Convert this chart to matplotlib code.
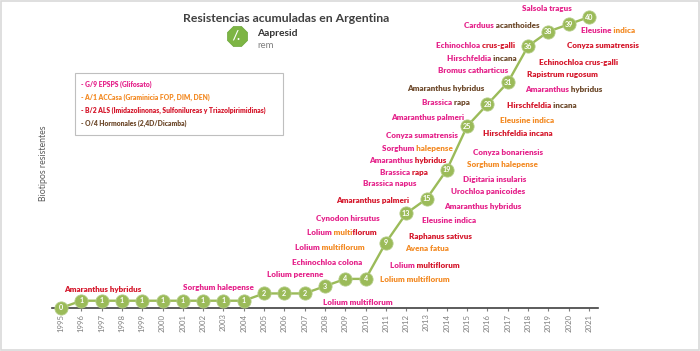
import matplotlib
matplotlib.use("Agg")
import matplotlib.pyplot as plt
from matplotlib.patches import Rectangle
from matplotlib.lines import Line2D
from matplotlib.transforms import Bbox

plt.rcParams['font.family'] = ['Lato', 'DejaVu Sans']

# data
years = list(range(1995, 2022))
counts = [0, 1, 1, 1, 1, 1, 1, 1, 1, 1, 2, 2, 2, 3, 4, 4, 9, 13, 15, 19, 25, 28, 31, 36, 38, 39, 40]

# species labels: list of (text, group) parts
species = [
    [("Amaranthus hybridus", "R")],
    [("Sorghum halepense", "P")],
    [("Lolium perenne", "P")],
    [("Echinochloa colona", "P")],
    [("Lolium ", "P"), ("multiflorum", "O")],
    [("Lolium ", "P"), ("multi", "O"), ("florum", "R")],
    [("Cynodon hirsutus", "P")],
    [("Amaranthus palmeri", "R")],
    [("Brassica napus", "P")],
    [("Brassica ", "P"), ("rapa", "R")],
    [("Amaranthus ", "P"), ("hybridus", "R")],
    [("Sorghum ", "P"), ("halepense", "O")],
    [("Conyza sumatrensis", "P")],
    [("Amaranthus palmeri", "P")],
    [("Brassica ", "P"), ("rapa", "B")],
    [("Amaranthus hybridus", "B")],
    [("Bromus catharticus", "P")],
    [("Hirschfeldia ", "P"), ("incana", "B")],
    [("Echinochloa ", "P"), ("crus-galli", "R")],
    [("Carduus ", "P"), ("acanthoides", "B")],
    [("Salsola tragus", "P")],
    [("Eleusine ", "P"), ("indica", "O")],
    [("Conyza sumatrensis", "R")],
    [("Echinochloa crus-galli", "R")],
    [("Rapistrum rugosum", "R")],
    [("Amaranthus ", "P"), ("hybridus", "B")],
    [("Hirschfeldia ", "R"), ("incana", "B")],
    [("Eleusine indica", "O")],
    [("Hirschfeldia incana", "R")],
    [("Conyza bonariensis", "P")],
    [("Sorghum halepense", "O")],
    [("Digitaria insularis", "P")],
    [("Urochloa panicoides", "P")],
    [("Amaranthus hybridus", "P")],
    [("Eleusine indica", "P")],
    [("Raphanus sativus", "R")],
    [("Avena fatua", "O")],
    [("Lolium ", "P"), ("multiflorum", "R")],
    [("Lolium multiflorum", "O")],
    [("Lolium multiflorum", "P")],
]

# where each label sits (centre, data units)
label_xy = [
    (1997.07, 2.61), (2002.73, 2.75), (2006.52, 4.67), (2008.10, 6.32),
    (2008.24, 8.25), (2008.84, 10.31), (2009.13, 12.37), (2010.36, 14.71),
    (2011.20, 17.18), (2011.89, 18.56), (2012.09, 20.21), (2012.53, 21.99),
    (2012.78, 23.78), (2013.07, 26.25), (2013.96, 28.18), (2013.96, 30.24),
    (2015.29, 32.71), (2015.73, 34.23), (2015.43, 36.15), (2016.71, 38.90),
    (2018.93, 41.10), (2021.93, 38.21), (2021.69, 36.15), (2020.50, 33.81),
    (2019.67, 32.16), (2019.77, 30.10), (2018.68, 27.90), (2017.94, 25.84),
    (2017.50, 23.92), (2017.01, 21.31), (2016.76, 19.66), (2016.37, 17.73),
    (2016.02, 15.95), (2015.78, 14.02), (2014.10, 11.96), (2013.71, 9.76),
    (2013.02, 8.11), (2012.92, 5.91), (2012.43, 3.85), (2009.62, 0.82),
]

legend_items = [
    ("- G/9 EPSPS (Glifosato)", "P"),
    ("- A/1 ACCasa (Graminicia FOP, DIM, DEN)", "O"),
    ("- B/2 ALS (Imidazolinonas, Sulfonilureas y Triazolpirimidinas)", "R"),
    ("- O/4 Hormonales (2,4D/Dicamba)", "B"),
]

colors = {"P": "#E5238B", "O": "#F38B25", "R": "#D5172B", "B": "#6E4A2C"}
green = "#9BBB59"
lab_fs = 5.8
lab_w = "heavy"

fig = plt.figure(figsize=(7, 3.51), dpi=100)
fig.patches.append(Rectangle((0.001, 0.003), 0.997, 0.994, transform=fig.transFigure,
                             fill=False, ec="#D9D9D9", lw=1.2))

ax = fig.add_axes([52 / 700, 43 / 351, 546 / 700, 42 * 7.275 / 351])
ax.set_xlim(1994.56, 2021.44)
ax.set_ylim(0, 42)

ax.plot(years, counts, color=green, lw=1.7, marker="o", ms=9.5, mfc=green,
        mec="#B3CC86", mew=0.6, clip_on=False, zorder=3)
for x, c in zip(years, counts):
    ax.text(x, c, str(c), ha="center", va="center", color="white",
            fontsize=5.2, fontweight="bold", zorder=4)

for s in ["top", "right", "left"]:
    ax.spines[s].set_visible(False)
ax.spines["bottom"].set_color("#404040")
ax.spines["bottom"].set_linewidth(1.2)
ax.set_yticks([])
ax.set_xticks(years)
ax.set_xticklabels([str(y) for y in years], rotation=90, fontsize=5.6, color="#7F7F7F")
ax.tick_params(axis="x", length=2, color="#7F7F7F", pad=2)

# species labels: the full name is drawn once per colour and clipped to its part
r = fig.canvas.get_renderer()


def text_w(s, prop):
    return r.get_text_width_height_descent(s, prop, ismath=False)[0]


for parts, (x, y) in zip(species, label_xy):
    full = "".join(p[0] for p in parts)
    texts = [ax.text(x, y, full, ha="center", va="center", fontsize=lab_fs,
                     fontweight=lab_w, color=colors[key], clip_on=False)
             for _, key in parts]
    if len(parts) == 1:
        continue
    prop = texts[0].get_fontproperties()
    ext = texts[0].get_window_extent(r)
    ref = text_w("x", prop)
    bounds = [ext.x0 - 6]
    prefix = ""
    for txt, _ in parts[:-1]:
        prefix += txt
        bounds.append(ext.x0 + text_w(prefix + "x", prop) - ref - 0.3)
    bounds.append(ext.x1 + 6)
    for i, t in enumerate(texts):
        t.set_clip_on(True)
        t.set_clip_path(None)
        t.set_clip_box(Bbox([[bounds[i], ext.y0 - 6], [bounds[i + 1], ext.y1 + 6]]))

# legend box
fig.patches.append(Rectangle((75 / 700, 1 - 135 / 351), 208 / 700, 62 / 351,
                             transform=fig.transFigure, fill=False, ec="#BFBFBF", lw=0.8))
for i, (txt, key) in enumerate(legend_items):
    fig.text(81 / 700, 1 - (84 + i * 13.1) / 351, txt, fontsize=4.9, fontweight=lab_w,
             color=colors[key], va="center", ha="left")

# title + logo
fig.text(286 / 700, 1 - 19 / 351, "Resistencias acumuladas en Argentina", ha="center",
         va="center", fontsize=8.8, fontweight="bold", color="#404040")
fig.add_artist(Line2D([237 / 700], [1 - 36 / 351], transform=fig.transFigure,
                      marker="8", ms=16, color="#7DB544", mec="#6CA63A", mew=0.5))
fig.text(236 / 700, 1 - 36 / 351, "/.", ha="center", va="center", fontsize=9,
         fontweight="bold", color="white", style="italic")
fig.text(257 / 700, 1 - 34 / 351, "Aapresid", ha="left", va="center", fontsize=7.4,
         fontweight="bold", color="#333333")
fig.text(257 / 700, 1 - 45 / 351, "rem", ha="left", va="center", fontsize=7,
         color="#808080")

fig.text(44 / 700, 1 - 163 / 351, "Biotipos resistentes", rotation=90, ha="center",
         va="center", fontsize=6.3, color="#595959")

fig.savefig("out.png", dpi=100)
